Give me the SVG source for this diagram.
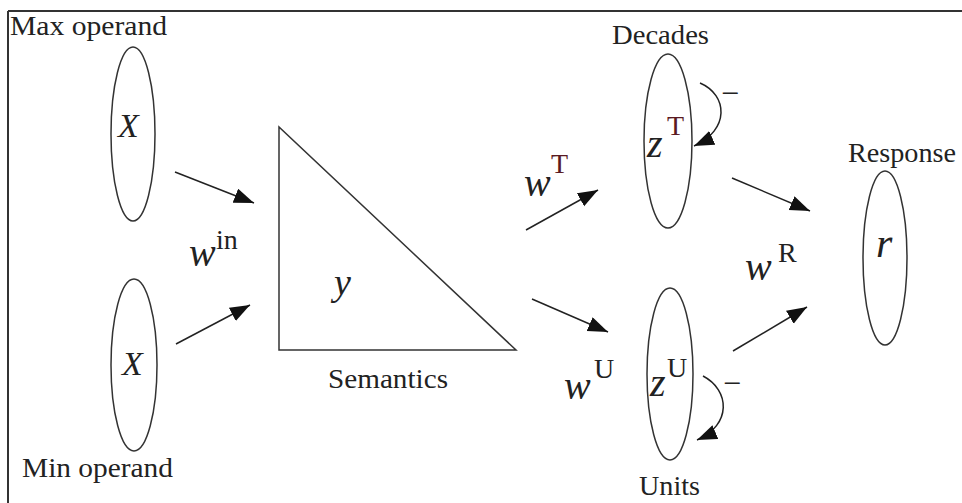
<svg xmlns="http://www.w3.org/2000/svg" width="962" height="503" viewBox="0 0 962 503" font-family="Liberation Serif, Tinos, Times New Roman, Nimbus Roman, FreeSerif, DejaVu Serif, Noto Serif, serif">
<defs>
<style>
.lbl{font-size:27px;fill:#222}
.mi{font-style:italic;font-size:40px;fill:#222}
.sup{font-size:28px;fill:#222}
.red{fill:#5a1a22}
.shape{fill:none;stroke:#333;stroke-width:1.5}
.conn{fill:none;stroke:#222;stroke-width:1.5}
</style>
<marker id="ah" markerUnits="userSpaceOnUse" markerWidth="22" markerHeight="16" refX="20" refY="7.5" orient="auto">
<path d="M0,0 L20,7.5 L0,15 z" fill="#111"/>
</marker>
</defs>
<rect width="962" height="503" fill="#fff"/>
<g id="frame" stroke="#333" stroke-width="2">
<line x1="8" y1="11" x2="962" y2="11"/>
<line x1="8" y1="11" x2="8" y2="503"/>
</g>
<g id="max-operand">
<ellipse class="shape" cx="133" cy="134" rx="22" ry="87"/>
<text class="mi" x="118" y="137" style="font-size:34px">X</text>
<text class="lbl" x="10" y="35" textLength="157" lengthAdjust="spacingAndGlyphs">Max operand</text>
</g>
<g id="min-operand">
<ellipse class="shape" cx="134" cy="365" rx="23" ry="86"/>
<text class="mi" x="122" y="375" style="font-size:34px">X</text>
<text class="lbl" x="22" y="477" textLength="151" lengthAdjust="spacingAndGlyphs">Min operand</text>
</g>
<g id="semantics">
<polygon class="shape" points="279,127 279,350 516,350"/>
<text class="mi" x="334" y="295" style="font-size:38px">y</text>
<text class="lbl" x="328" y="388" textLength="120" lengthAdjust="spacingAndGlyphs">Semantics</text>
</g>
<g id="decades">
<ellipse class="shape" cx="668" cy="141" rx="24" ry="87"/>
<text class="mi" x="647" y="157">z</text>
<text class="sup red" x="667" y="135">T</text>
<text class="lbl" x="612" y="44" textLength="97" lengthAdjust="spacingAndGlyphs">Decades</text>
</g>
<g id="units">
<ellipse class="shape" cx="670" cy="374" rx="23" ry="86"/>
<text class="mi" x="650" y="396">z</text>
<text class="sup" x="667" y="377">U</text>
<text class="lbl" x="639" y="495" textLength="61" lengthAdjust="spacingAndGlyphs">Units</text>
</g>
<g id="response">
<ellipse class="shape" cx="885" cy="258" rx="22" ry="87"/>
<text class="mi" x="876" y="257" style="font-size:42px">r</text>
<text class="lbl" x="848" y="162" textLength="108" lengthAdjust="spacingAndGlyphs">Response</text>
</g>
<g id="connectors">
<line class="conn" x1="175" y1="172" x2="254" y2="203" marker-end="url(#ah)"/>
<line class="conn" x1="176" y1="344" x2="250" y2="305" marker-end="url(#ah)"/>
<line class="conn" x1="526" y1="230" x2="598" y2="190" marker-end="url(#ah)"/>
<line class="conn" x1="532" y1="299" x2="608" y2="332" marker-end="url(#ah)"/>
<line class="conn" x1="732" y1="178" x2="810" y2="211" marker-end="url(#ah)"/>
<line class="conn" x1="733" y1="351" x2="807" y2="307" marker-end="url(#ah)"/>
<path class="conn" d="M700,83 C728,95 730,130 694,146" marker-end="url(#ah)"/>
<path class="conn" d="M703,376 C730,390 732,425 697,440" marker-end="url(#ah)"/>
</g>
<g id="labels">
<text class="mi" x="189" y="266">w</text>
<text class="sup" x="216" y="249">in</text>
<text class="mi" x="524" y="196">w</text>
<text class="sup red" x="551" y="173">T</text>
<text class="mi" x="564" y="399">w</text>
<text class="sup" x="594" y="378">U</text>
<text class="mi" x="745" y="280">w</text>
<text class="sup" x="778" y="262">R</text>
<text class="sup" x="721" y="104" style="font-size:32px">−</text>
<text class="sup" x="723" y="394" style="font-size:32px">−</text>
</g>
</svg>
